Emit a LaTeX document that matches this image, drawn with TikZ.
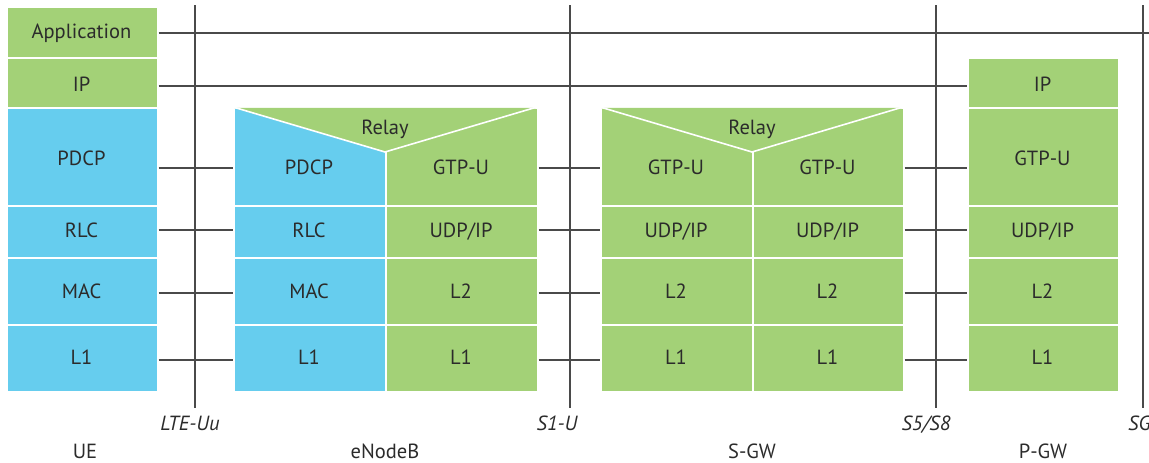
\documentclass[tikz,border=0pt]{standalone}
\usepackage{fontspec}
\setmainfont{PT Sans}
\begin{document}
\begin{tikzpicture}[x=1pt,y=-1pt,
  cellG/.style={fill=lteGreen,draw=white,line width=1.6pt,inner sep=0pt,anchor=north west},
  cellB/.style={fill=lteBlue,draw=white,line width=1.6pt,inner sep=0pt,anchor=north west},
  txt/.style={text=txtgray,font=\fontsize{20.5}{24}\selectfont,inner sep=0pt,text height=14.3pt,text depth=0pt},
  itf/.style={text=txtgray,font=\fontsize{20.5}{24}\selectfont\itshape,inner sep=0pt,text height=14.3pt,text depth=0pt},
  link/.style={draw=linegray,line width=1.3pt},
  vline/.style={draw=linegray,line width=1.3pt}]
\definecolor{lteGreen}{HTML}{A3D177}
\definecolor{lteBlue}{HTML}{66CDEE}
\definecolor{txtgray}{HTML}{2B2B2B}
\definecolor{linegray}{HTML}{4A4A4A}
\useasboundingbox (0,0) rectangle (1149,463);
% ---------- UE ----------
\node[cellG,minimum width=151pt,minimum height=51pt] (ue-app) at (6,6) {};
\node[cellG,minimum width=151pt,minimum height=50pt] (ue-ip) at (6,57) {};
\node[cellB,minimum width=151pt,minimum height=98pt] (ue-pdcp) at (6,107) {};
\node[cellB,minimum width=151pt,minimum height=52pt] (ue-rlc) at (6,205) {};
\node[cellB,minimum width=151pt,minimum height=67pt] (ue-mac) at (6,257) {};
\node[cellB,minimum width=151pt,minimum height=67pt] (ue-l1) at (6,324) {};
\node[txt] (t-ue-app) at (81.5,31) {Application};
\node[txt] (t-ue-ip) at (81.5,84) {IP};
\node[txt] (t-ue-pdcp) at (81.5,158) {PDCP};
\node[txt] (t-ue-rlc) at (81.5,230) {RLC};
\node[txt] (t-ue-mac) at (81.5,291) {MAC};
\node[txt] (t-ue-l1) at (81.5,357) {L1};
% ---------- eNodeB ----------
\node[cellB,minimum width=152pt,minimum height=98pt] (enb-pdcp) at (233,107) {};
\node[cellG,minimum width=152pt,minimum height=98pt] (enb-gtp) at (385,107) {};
\node[cellB,minimum width=152pt,minimum height=52pt] (enb-rlc) at (233,205) {};
\node[cellG,minimum width=152pt,minimum height=52pt] (enb-udp) at (385,205) {};
\node[cellB,minimum width=152pt,minimum height=67pt] (enb-mac) at (233,257) {};
\node[cellG,minimum width=152pt,minimum height=67pt] (enb-l2) at (385,257) {};
\node[cellB,minimum width=152pt,minimum height=67pt] (enb-l1a) at (233,324) {};
\node[cellG,minimum width=152pt,minimum height=67pt] (enb-l1b) at (385,324) {};
\fill[lteGreen] (233.8,107.8) -- (536.2,107.8) -- (385,152) -- cycle;
\draw[white,line width=1.6pt] (233,107) -- (385,152) -- (537,107);
\node[txt] (t-enb-relay) at (385,127) {Relay};
\node[txt] (t-enb-pdcp) at (309,167) {PDCP};
\node[txt] (t-enb-gtp) at (461,167) {GTP-U};
\node[txt] (t-enb-rlc) at (309,230) {RLC};
\node[txt] (t-enb-udp) at (461,230) {UDP/IP};
\node[txt] (t-enb-mac) at (309,291) {MAC};
\node[txt] (t-enb-l2) at (461,291) {L2};
\node[txt] (t-enb-l1a) at (309,357) {L1};
\node[txt] (t-enb-l1b) at (461,357) {L1};
% ---------- S-GW ----------
\node[cellG,minimum width=152pt,minimum height=98pt] (sgw-gtpa) at (600,107) {};
\node[cellG,minimum width=151pt,minimum height=98pt] (sgw-gtpb) at (752,107) {};
\node[cellG,minimum width=152pt,minimum height=52pt] (sgw-udpa) at (600,205) {};
\node[cellG,minimum width=151pt,minimum height=52pt] (sgw-udpb) at (752,205) {};
\node[cellG,minimum width=152pt,minimum height=67pt] (sgw-l2a) at (600,257) {};
\node[cellG,minimum width=151pt,minimum height=67pt] (sgw-l2b) at (752,257) {};
\node[cellG,minimum width=152pt,minimum height=67pt] (sgw-l1a) at (600,324) {};
\node[cellG,minimum width=151pt,minimum height=67pt] (sgw-l1b) at (752,324) {};
\fill[lteGreen] (600.8,107.8) -- (902.2,107.8) -- (752,152) -- cycle;
\draw[white,line width=1.6pt] (600,107) -- (752,152) -- (903,107);
\node[txt] (t-sgw-relay) at (752,127) {Relay};
\node[txt] (t-sgw-gtpa) at (676,167) {GTP-U};
\node[txt] (t-sgw-gtpb) at (827.5,167) {GTP-U};
\node[txt] (t-sgw-udpa) at (676,230) {UDP/IP};
\node[txt] (t-sgw-udpb) at (827.5,230) {UDP/IP};
\node[txt] (t-sgw-l2a) at (676,291) {L2};
\node[txt] (t-sgw-l2b) at (827.5,291) {L2};
\node[txt] (t-sgw-l1a) at (676,357) {L1};
\node[txt] (t-sgw-l1b) at (827.5,357) {L1};
% ---------- P-GW ----------
\node[cellG,minimum width=151pt,minimum height=50pt] (pgw-ip) at (967,57) {};
\node[cellG,minimum width=151pt,minimum height=98pt] (pgw-gtp) at (967,107) {};
\node[cellG,minimum width=151pt,minimum height=52pt] (pgw-udp) at (967,205) {};
\node[cellG,minimum width=151pt,minimum height=67pt] (pgw-l2) at (967,257) {};
\node[cellG,minimum width=151pt,minimum height=67pt] (pgw-l1) at (967,324) {};
\node[txt] (t-pgw-ip) at (1042.5,84) {IP};
\node[txt] (t-pgw-gtp) at (1042.5,158) {GTP-U};
\node[txt] (t-pgw-udp) at (1042.5,230) {UDP/IP};
\node[txt] (t-pgw-l2) at (1042.5,291) {L2};
\node[txt] (t-pgw-l1) at (1042.5,357) {L1};
% ---------- interfaces ----------
\coordinate (uu-t) at (195,5);   \coordinate (uu-b) at (195,408);
\coordinate (s1-t) at (570,5);   \coordinate (s1-b) at (570,408);
\coordinate (s5-t) at (936,5);   \coordinate (s5-b) at (936,408);
\coordinate (sg-t) at (1143,5);  \coordinate (sg-b) at (1143,408);
\draw[vline] (uu-t) -- (uu-b);
\draw[vline] (s1-t) -- (s1-b);
\draw[vline] (s5-t) -- (s5-b);
\draw[vline] (sg-t) -- (sg-b);
\node[itf] (l-uu) at (190,423) {LTE-Uu};
\node[itf] (l-s1) at (557,423) {S1-U};
\node[itf] (l-s5) at (926,423) {S5/S8};
\node[itf,anchor=west] (l-sg) at (1128,423) {SG};
\node[txt] (n-ue) at (85,451) {UE};
\node[txt] (n-enb) at (385,451) {eNodeB};
\node[txt] (n-sgw) at (752,451) {S-GW};
\node[txt] (n-pgw) at (1043,451) {P-GW};
% ---------- peer links ----------
\coordinate (y-app) at (0,33);
\coordinate (y-ip) at (0,86);
\coordinate (y-1) at (0,168);
\coordinate (y-2) at (0,230);
\coordinate (y-3) at (0,293);
\coordinate (y-4) at (0,360);
\coordinate (app-end) at (1149,33);
\draw[link] (ue-app.east |- y-app) -- (app-end);
\draw[link] (ue-ip.east |- y-ip) -- (pgw-ip.west |- y-ip);
\draw[link] (ue-pdcp.east |- y-1) -- (enb-pdcp.west |- y-1);
\draw[link] (ue-rlc.east |- y-2) -- (enb-rlc.west |- y-2);
\draw[link] (ue-mac.east |- y-3) -- (enb-mac.west |- y-3);
\draw[link] (ue-l1.east |- y-4) -- (enb-l1a.west |- y-4);
\draw[link] (enb-gtp.east |- y-1) -- (sgw-gtpa.west |- y-1);
\draw[link] (enb-udp.east |- y-2) -- (sgw-udpa.west |- y-2);
\draw[link] (enb-l2.east |- y-3) -- (sgw-l2a.west |- y-3);
\draw[link] (enb-l1b.east |- y-4) -- (sgw-l1a.west |- y-4);
\draw[link] (sgw-gtpb.east |- y-1) -- (pgw-gtp.west |- y-1);
\draw[link] (sgw-udpb.east |- y-2) -- (pgw-udp.west |- y-2);
\draw[link] (sgw-l2b.east |- y-3) -- (pgw-l2.west |- y-3);
\draw[link] (sgw-l1b.east |- y-4) -- (pgw-l1.west |- y-4);
\end{tikzpicture}
\end{document}
